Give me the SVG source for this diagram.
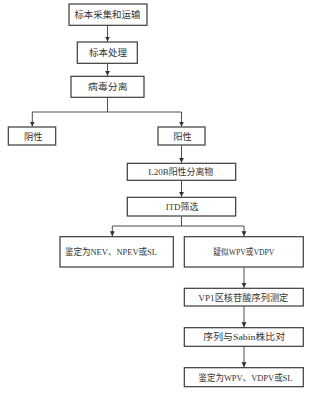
<svg xmlns="http://www.w3.org/2000/svg" width="322" height="394" viewBox="0 0 322 394">
<style>
.b{fill:#fff;stroke:#3a3a3a;stroke-width:1.2}
.t{font-family:"Liberation Serif","Noto Sans CJK SC",serif;font-size:9px;fill:#333;text-anchor:middle}
.c{fill:none;stroke:#3a3a3a;stroke-width:0.9}
</style>
<defs>
<marker id="a" markerWidth="6" markerHeight="6" refX="5" refY="3" orient="auto" markerUnits="userSpaceOnUse">
<path d="M0,0.5 L5,3 L0,5.5 Z" fill="#333"/>
</marker>
</defs>
<rect width="322" height="394" fill="#fff"/>
<g id="connectors">
<path class="c" d="M107.5,25.5 V41.5" marker-end="url(#a)"/>
<path class="c" d="M107.5,63.5 V75.8" marker-end="url(#a)"/>
<path class="c" d="M107.5,97.5 V112 M32.3,112 H181.5"/>
<path class="c" d="M32.3,112 V126.5" marker-end="url(#a)"/>
<path class="c" d="M181.5,112 V126.5" marker-end="url(#a)"/>
<path class="c" d="M181.5,145.5 V162.8" marker-end="url(#a)"/>
<path class="c" d="M181.5,180.5 V196.8" marker-end="url(#a)"/>
<path class="c" d="M181.5,216.5 V226 M112.3,226 H244"/>
<path class="c" d="M112.3,226 V236.3" marker-end="url(#a)"/>
<path class="c" d="M244,226 V236.3" marker-end="url(#a)"/>
<path class="c" d="M244,267.5 V287.8" marker-end="url(#a)"/>
<path class="c" d="M244,306.5 V327.3" marker-end="url(#a)"/>
<path class="c" d="M244,346.5 V367.3" marker-end="url(#a)"/>
</g>
<g id="n1"><rect class="b" x="69" y="4" width="78" height="21.3"/><text class="t" x="107.4" y="18" textLength="66" lengthAdjust="spacingAndGlyphs">标本采集和运输</text></g>
<g id="n2"><rect class="b" x="77.3" y="42" width="60" height="21.3"/><text class="t" x="108" y="56" textLength="38" lengthAdjust="spacingAndGlyphs">标本处理</text></g>
<g id="n3"><rect class="b" x="71" y="76.3" width="73" height="21"/><text class="t" x="107.7" y="90" textLength="40" lengthAdjust="spacingAndGlyphs">病毒分离</text></g>
<g id="n4"><rect class="b" x="8.3" y="127" width="47.4" height="18"/><text class="t" x="33.3" y="139.5" textLength="18.5" lengthAdjust="spacingAndGlyphs">阴性</text></g>
<g id="n5"><rect class="b" x="158" y="127" width="47" height="18"/><text class="t" x="182.5" y="139.5" textLength="18.5" lengthAdjust="spacingAndGlyphs">阳性</text></g>
<g id="n6"><rect class="b" x="127.3" y="163.3" width="108.4" height="17"/><text class="t" x="180.8" y="175.3" textLength="65" lengthAdjust="spacingAndGlyphs">L20B阳性分离物</text></g>
<g id="n7"><rect class="b" x="127.3" y="197.3" width="108.4" height="18.7"/><text class="t" x="182" y="210" textLength="32.6" lengthAdjust="spacingAndGlyphs">ITD筛选</text></g>
<g id="n8"><rect class="b" x="60" y="236.7" width="113.3" height="30.3"/><text class="t" x="111" y="255" textLength="92" lengthAdjust="spacingAndGlyphs">鉴定为NEV、NPEV或SL</text></g>
<g id="n9"><rect class="b" x="184.3" y="236.7" width="119" height="30.3"/><text class="t" x="243.8" y="255" textLength="61" lengthAdjust="spacingAndGlyphs">疑似WPV或VDPV</text></g>
<g id="n10"><rect class="b" x="184.3" y="288.3" width="119" height="17.7"/><text class="t" x="243.3" y="300.5" textLength="90" lengthAdjust="spacingAndGlyphs">VP1区核苷酸序列测定</text></g>
<g id="n11"><rect class="b" x="184.3" y="327.7" width="119" height="18.6"/><text class="t" x="244.2" y="340.3" textLength="81.7" lengthAdjust="spacingAndGlyphs">序列与Sabin株比对</text></g>
<g id="n12"><rect class="b" x="184.3" y="367.7" width="119" height="19"/><text class="t" x="245.5" y="380.5" textLength="94" lengthAdjust="spacingAndGlyphs">鉴定为WPV、VDPV或SL</text></g>
</svg>
